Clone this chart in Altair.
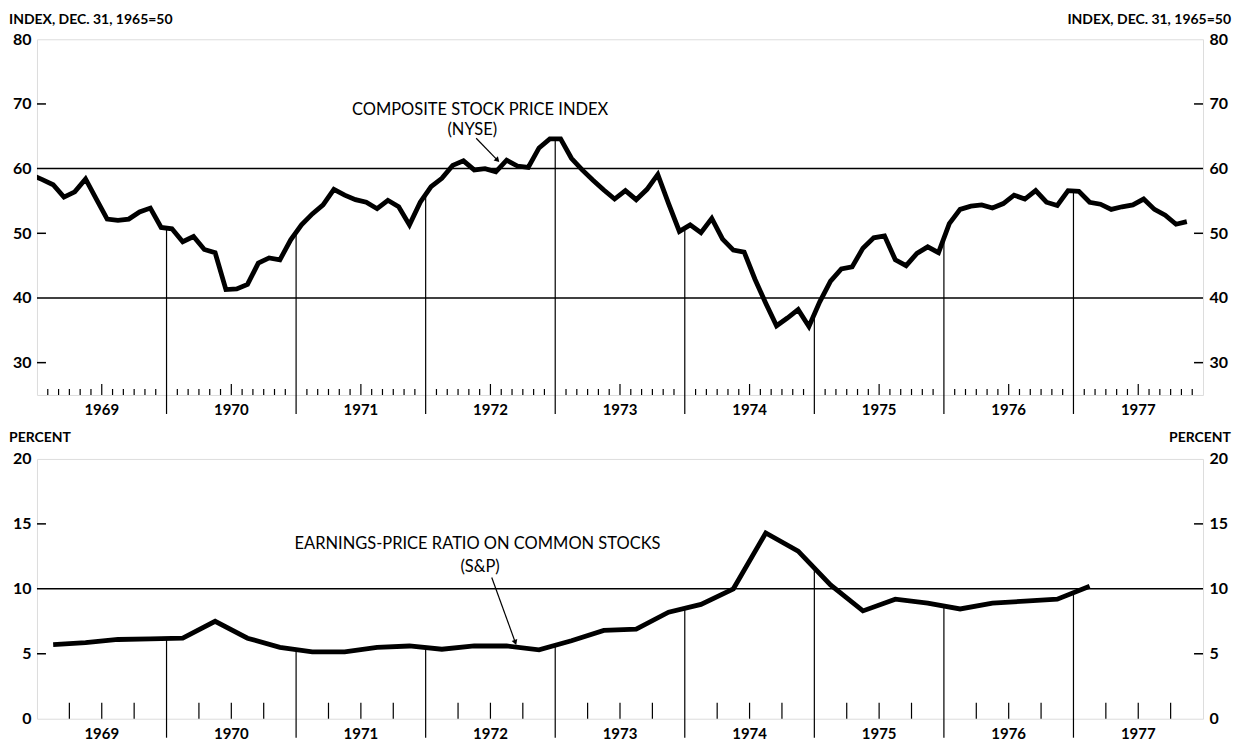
import altair as alt
import pandas as pd
import numpy as np

# ---------------- data ----------------
years = [1969, 1970, 1971, 1972, 1973, 1974, 1975, 1976, 1977]
year_labels = ["1969", "1970", "1971", "1972", "1973", "1974", "1975", "1976", "1977"]

# Composite stock price index (NYSE), monthly averages, Dec. 31, 1965 = 50
nyse_1968_dec = [59.0]
nyse_1969 = [58.3, 57.5, 55.6, 56.4, 58.4, 55.3, 52.2, 52.0, 52.2, 53.3, 53.9, 50.9]
nyse_1970 = [50.7, 48.7, 49.5, 47.5, 47.0, 41.3, 41.4, 42.1, 45.4, 46.2, 45.9, 49.0]
nyse_1971 = [51.3, 53.0, 54.4, 56.8, 55.9, 55.2, 54.8, 53.8, 55.1, 54.1, 51.3, 54.8]
nyse_1972 = [57.2, 58.5, 60.5, 61.2, 59.8, 60.0, 59.5, 61.3, 60.4, 60.2, 63.2, 64.6]
nyse_1973 = [64.6, 61.6, 59.8, 58.2, 56.7, 55.3, 56.6, 55.2, 56.8, 59.1, 54.6, 50.3]
nyse_1974 = [51.3, 50.1, 52.3, 49.1, 47.4, 47.1, 42.9, 39.2, 35.7, 36.9, 38.2, 35.6]
nyse_1975 = [39.4, 42.6, 44.5, 44.8, 47.7, 49.3, 49.6, 45.9, 45.0, 46.9, 47.9, 47.0]
nyse_1976 = [51.5, 53.7, 54.2, 54.4, 53.9, 54.6, 55.9, 55.3, 56.6, 54.8, 54.3, 56.6]
nyse_1977 = [56.5, 54.8, 54.5, 53.7, 54.1, 54.4, 55.3, 53.7, 52.8, 51.4, 51.8]

# Earnings-price ratio on common stocks (S&P), quarterly, percent
ep_1969 = [5.7, 5.85, 6.1, 6.15]
ep_1970 = [6.2, 7.5, 6.2, 5.5]
ep_1971 = [5.15, 5.15, 5.5, 5.6]
ep_1972 = [5.35, 5.6, 5.6, 5.3]
ep_1973 = [6.0, 6.8, 6.9, 8.2]
ep_1974 = [8.8, 10.0, 14.3, 12.9]
ep_1975 = [10.3, 8.3, 9.2, 8.9]
ep_1976 = [8.45, 8.9, 9.05, 9.2]
ep_1977 = [10.2]

top_ticks = [30, 40, 50, 60, 70, 80]
top_inner_ticks = [30, 50, 70]
top_grid = [40, 60]
bot_ticks = [0, 5, 10, 15, 20]
bot_inner_ticks = [5, 15]
bot_grid = [10]

top_title = ["INDEX, DEC. 31, 1965=50"]
bot_title = ["PERCENT"]
top_note = ["COMPOSITE STOCK PRICE INDEX", "(NYSE)"]
bot_note = ["EARNINGS-PRICE RATIO ON COMMON STOCKS", "(S&P)"]

# annotation anchor points (data units: year, value)
top_note_t = [1972.42, 1972.36]
top_note_v = [69.0, 65.9]
top_arrow = dict(t=[1972.39], v=[64.7], t2=[1972.55], v2=[61.4])
bot_note_t = [1972.40, 1972.42]
bot_note_v = [13.46, 11.66]
bot_arrow = dict(t=[1972.51], v=[10.87], t2=[1972.69], v2=[5.93])

# ---------------- tables ----------------
nyse_by_year = [nyse_1969, nyse_1970, nyse_1971, nyse_1972, nyse_1973,
                nyse_1974, nyse_1975, nyse_1976, nyse_1977]
rows = [{"t": 1968 + 11.5 / 12, "v": nyse_1968_dec[0]}]
for y, vals in zip(years, nyse_by_year):
    for m, v in enumerate(vals):
        rows.append({"t": y + (m + 0.5) / 12, "v": v})
df_nyse = pd.DataFrame(rows)

ep_by_year = [ep_1969, ep_1970, ep_1971, ep_1972, ep_1973, ep_1974, ep_1975, ep_1976, ep_1977]
rows = []
for y, vals in zip(years, ep_by_year):
    for q, v in enumerate(vals):
        rows.append({"t": y + (q + 0.5) / 4, "v": v})
df_ep = pd.DataFrame(rows)

boundaries = years[1:]
df_div_top = pd.DataFrame({"t": boundaries,
                           "v": np.interp(boundaries, df_nyse["t"], df_nyse["v"])})
df_div_bot = pd.DataFrame({"t": boundaries,
                           "v": np.interp(boundaries, df_ep["t"], df_ep["v"])})

df_mticks = pd.DataFrame({"t": [y + m / 12 for y in years for m in range(1, 12) if m != 6]})
df_mticks_tall = pd.DataFrame({"t": [y + 0.5 for y in years]})
df_qticks = pd.DataFrame({"t": [y + q / 4 for y in years for q in range(1, 4)]})
df_years = pd.DataFrame({"t": [y + 0.5 for y in years], "s": year_labels})

# ---------------- chart ----------------
W = 1167
H1 = 356
H2 = 260
FONT = "Lato"

xs = alt.Scale(domain=[1969, 1978], nice=False, zero=False)
ys1 = alt.Scale(domain=[25, 80], nice=False, zero=False)
ys2 = alt.Scale(domain=[0, 20], nice=False, zero=False)


def X(f):
    return alt.X(f, type="quantitative", scale=xs, axis=None)


def Y(f, ys, axis=None):
    if axis is None:
        return alt.Y(f, type="quantitative", scale=ys, axis=None)
    return alt.Y(f, type="quantitative", scale=ys, axis=axis)


def yaxis(values, orient):
    return alt.Axis(values=values, orient=orient, ticks=False, domain=False, grid=False,
                    labelFontSize=16, labelFontWeight="bold", labelFont=FONT,
                    labelColor="black", labelPadding=6, title=None,
                    labelAlign="right" if orient == "left" else "left")


def panel(df, H, ys, grid_vals, inner_vals, label_vals, div_df, tick_layers,
          title, title_y, notes, note_t, note_v, arrow, arrow_angle):
    line = alt.Chart(df).mark_line(color="black", strokeWidth=4.8, clip=True).encode(
        x=X("t"), y=Y("v", ys, yaxis(label_vals, "left")))
    right_axis = alt.Chart(pd.DataFrame({"v": label_vals})).mark_rule(opacity=0).encode(
        y=Y("v", ys, yaxis(label_vals, "right")))
    grid = alt.Chart(pd.DataFrame({"v": grid_vals})).mark_rule(
        color="black", strokeWidth=1.5).encode(
        y=Y("v", ys), x=alt.value(0), x2=alt.value(W))
    inl = alt.Chart(pd.DataFrame({"v": inner_vals})).mark_rule(
        color="black", strokeWidth=1.5).encode(
        y=Y("v", ys), x=alt.value(0), x2=alt.value(9))
    inr = alt.Chart(pd.DataFrame({"v": inner_vals})).mark_rule(
        color="black", strokeWidth=1.5).encode(
        y=Y("v", ys), x=alt.value(W - 9), x2=alt.value(W))
    div = alt.Chart(div_df).mark_rule(color="black", strokeWidth=1.2).encode(
        x=X("t"), y=Y("v", ys), y2=alt.value(H + 19))
    ticks = []
    for tdf, h in tick_layers:
        ticks.append(alt.Chart(tdf).mark_rule(color="black", strokeWidth=1.2).encode(
            x=X("t"), y=alt.value(H), y2=alt.value(H - h)))
    ylab = alt.Chart(df_years).mark_text(
        font=FONT, fontSize=15, fontWeight="bold", color="black", baseline="middle").encode(
        x=X("t"), y=alt.value(H + 15), text="s:N")
    tl = alt.Chart(pd.DataFrame({"s": title})).mark_text(
        font=FONT, fontSize=14, fontWeight="bold", color="black", align="left",
        baseline="middle").encode(x=alt.value(-28), y=alt.value(title_y), text="s:N")
    tr = alt.Chart(pd.DataFrame({"s": title})).mark_text(
        font=FONT, fontSize=14, fontWeight="bold", color="black", align="right",
        baseline="middle").encode(x=alt.value(W + 28), y=alt.value(title_y), text="s:N")
    note = alt.Chart(pd.DataFrame({"s": notes, "t": note_t, "v": note_v})).mark_text(
        font=FONT, fontSize=16.5, color="black", baseline="middle").encode(
        x=X("t"), y=Y("v", ys), text="s:N")
    adf = pd.DataFrame(arrow)
    arr = alt.Chart(adf).mark_rule(color="black", strokeWidth=1.2).encode(
        x=X("t"), y=Y("v", ys), x2="t2:Q", y2="v2:Q")
    head = alt.Chart(adf).mark_point(shape="triangle", filled=True, color="black",
                                     size=35, opacity=1, angle=arrow_angle).encode(
        x=X("t2"), y=Y("v2", ys))
    layers = [grid, inl, inr, div] + ticks + [line, right_axis, ylab, tl, tr, note, arr, head]
    return alt.layer(*layers).resolve_axis(y="independent").properties(width=W, height=H)


top = panel(df_nyse, H1, ys1, top_grid, top_inner_ticks, top_ticks, df_div_top,
            [(df_mticks, 6), (df_mticks_tall, 11)], top_title, -19, top_note,
            top_note_t, top_note_v, top_arrow, 136)
bottom = panel(df_ep, H2, ys2, bot_grid, bot_inner_ticks, bot_ticks, df_div_bot,
               [(df_qticks, 16)], bot_title, -21, bot_note, bot_note_t, bot_note_v,
               bot_arrow, 160)

chart = alt.vconcat(top, bottom, spacing=64, bounds="flush").properties(
    padding={"left": 0, "top": 4, "right": 0, "bottom": 0}
).configure_view(stroke="black", strokeWidth=1.5).configure(background="white")

chart.save("out.html", embed_options={"renderer": "svg", "actions": False})
